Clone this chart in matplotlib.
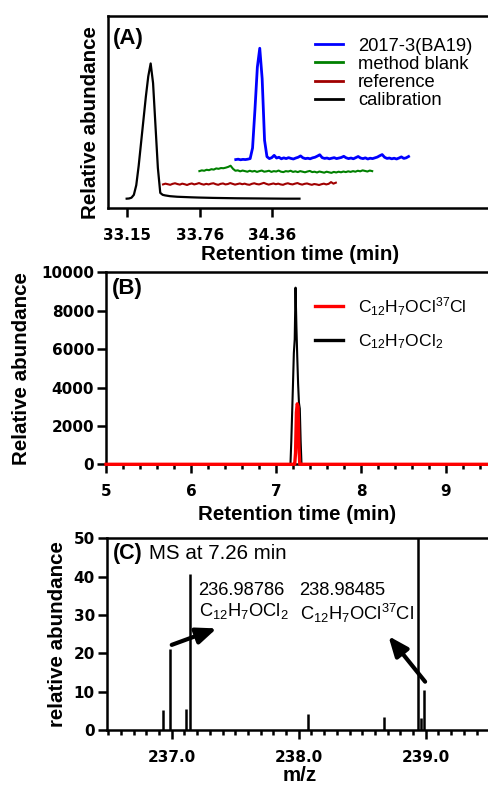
import numpy as np
import matplotlib
matplotlib.use("Agg")
import matplotlib.pyplot as plt
from matplotlib.ticker import MultipleLocator, FormatStrFormatter

plt.rcParams['font.family'] = ['Liberation Sans', 'DejaVu Sans']
plt.rcParams['mathtext.default'] = 'regular'

# ---------------- (A) stacked chromatograms ----------------
scan_time = np.round(np.linspace(33.15, 34.59, 73), 3)

calibration = [
    0.0, 0.1, 0.5, 2.0, 7.0, 17.0, 29.0, 41.0, 53.0, 63.5,
    70.2, 60.0, 38.0, 16.0, 3.0, 2.0, 1.7, 1.5, 1.3, 1.2,
    1.1, 1.0, 0.95, 0.9, 0.85, 0.8, 0.75, 0.7, 0.66, 0.62,
    0.58, 0.55, 0.52, 0.49, 0.46, 0.43, 0.4, 0.38, 0.36, 0.34,
    0.32, 0.3, 0.28, 0.26, 0.24, 0.22, 0.2, 0.19, 0.18, 0.17,
    0.16, 0.15, 0.14, 0.13, 0.12, 0.11, 0.1, 0.09, 0.08, 0.07,
    0.06, 0.05, 0.04, 0.03, 0.02, 0.01, 0.0, 0.0, 0.0, 0.0,
    0.0, 0.0, 0.0]

reference = [
    0.0, 0.4, 0.1, -0.2, 0.3, 0.6, 0.2, -0.1, 0.4, 0.1,
    -0.3, 0.2, 0.5, 0.0, 0.3, 0.7, 0.2, -0.1, 0.3, 0.0,
    0.4, 0.6, 0.1, -0.2, 0.3, 0.5, 0.0, 0.2, 0.7, 0.3,
    -0.1, 0.2, 0.5, 0.1, 0.4, 0.0, -0.2, 0.3, 0.6, 0.2,
    0.0, 0.4, 0.8, 0.3, -0.1, 0.2, 0.5, 0.1, 0.4, 0.0,
    -0.2, 0.3, 0.6, 0.2, 0.0, 0.4, 0.7, 0.2, -0.1, 0.3,
    0.5, 0.1, -0.2, 0.2, 0.0, -0.3, 0.1, 0.4, 0.0, 0.3,
    1.2, 0.4, 0.9]

method_blank = [
    0.0, 0.4, 0.2, 0.7, 0.5, 1.0, 0.8, 1.4, 1.2, 1.6,
    1.5, 1.8, 2.2, 2.8, 1.2, 0.2, 0.4, -0.1, 0.3, 0.0,
    -0.3, 0.2, -0.2, 0.1, -0.4, 0.0, 0.3, -0.3, -0.1, 0.2,
    -0.4, 0.0, -0.2, 0.3, -0.3, -0.5, 0.0, -0.2, 0.2, -0.4,
    -0.1, -0.5, 0.0, -0.3, -0.6, -0.2, 0.1, -0.5, -0.3, -0.7,
    -0.2, -0.5, -0.8, -0.3, -0.6, -0.9, -0.4, -0.7, -0.3, -0.6,
    -0.2, -0.5, -0.1, -0.4, 0.0, -0.3, 0.2, -0.1, 0.4, 0.1,
    -0.2, 0.3, 0.0]

sample_ba19 = [
    0.0, 0.2, -0.1, 0.1, 0.0, 0.2, 0.5, 6.0, 26.0, 48.0,
    57.8, 42.0, 10.0, 1.5, 0.5, 1.0, 2.2, 0.8, 1.2, 0.4,
    0.9, 0.5, 1.0, 0.6, 0.3, 0.8, 1.2, 1.9, 0.9, 0.5,
    0.7, 0.4, 0.9, 1.2, 1.8, 2.5, 1.0, 0.6, 0.8, 0.4,
    0.7, 1.0, 0.5, 0.8, 1.1, 1.7, 0.9, 0.5, 0.8, 0.4,
    1.0, 1.6, 0.8, 0.5, 0.9, 0.3, 0.7, 0.5, 0.9, 1.3,
    2.0, 2.6, 1.2, 0.6, 0.8, 0.4, 0.7, 0.3, 0.8, 1.4,
    0.6, 0.9, 1.6]

a_labels = ['2017-3(BA19)', 'method blank', 'reference', 'calibration']
a_series = [sample_ba19, method_blank, reference, calibration]
a_colors = ['#0000ff', '#008000', '#a00000', '#000000']
a_widths = [2.0, 1.5, 1.5, 1.6]
a_ticks = [33.15, 33.76, 34.36]

# stacking: each trace shifted right and up relative to the one below it
stack_dx = [0.909, 0.606, 0.303, 0.0]
stack_dy = [25.3, 19.3, 12.4, 5.0]

# ---------------- (B) extracted ion chromatograms ----------------
b_time = [5.00, 7.16, 7.17, 7.18, 7.19, 7.20, 7.21, 7.22, 7.23, 7.24,
          7.25, 7.26, 7.27, 7.28, 7.29, 7.30, 7.31, 9.50]
b_cl2 = [0, 0, 0, 1200, 2700, 4200, 5800, 6500, 9200, 7200,
         5600, 4200, 3200, 2900, 1200, 0, 0, 0]
b_cl37 = [0, 0, 0, 0, 0, 0, 0, 0, 600, 2700,
          3150, 3000, 900, 0, 0, 0, 0, 0]
b_labels = [r'C$_{12}$H$_7$OCl$^{37}$Cl', r'C$_{12}$H$_7$OCl$_2$']

# ---------------- (C) mass spectrum at 7.26 min ----------------
c_mz = [236.929, 236.98786, 237.113, 237.146, 238.071, 238.672,
        238.937, 238.963, 238.98485]
c_int = [5.3, 21.2, 5.4, 40.7, 4.3, 3.3, 100.0, 3.2, 10.4]

# ---------------- figure ----------------
W, H = 489, 785
fig = plt.figure(figsize=(W / 100, H / 100), dpi=100)


def axes_px(left, top, right, bottom):
    return fig.add_axes([left / W, 1 - bottom / H, (right - left) / W, (bottom - top) / H])


SPINE = 1.8
TICK_FS = 11
LABEL_FS = 14.8
TICK_FONT = ['DejaVu Sans']


def style(ax, right=True):
    for s in ax.spines.values():
        s.set_linewidth(SPINE)
    if not right:
        ax.spines['right'].set_visible(False)
    ax.tick_params(which='major', direction='out', width=SPINE, length=6.5,
                   labelsize=TICK_FS)
    ax.tick_params(which='minor', direction='out', width=SPINE, length=3.5)
    ax.tick_params(axis='x', which='major', pad=8)
    ax.tick_params(axis='y', which='major', pad=2)
    ax.tick_params(top=False, right=False, which='both')


def bold_ticks(ax):
    for t in ax.get_xticklabels() + ax.get_yticklabels():
        t.set_fontweight('bold')
        t.set_family(TICK_FONT)


# ---- panel A ----
axA = axes_px(107.7, 15.7, 488.5, 208.3)
style(axA)
for vals, lab, col, lw, dx, dy in zip(a_series, a_labels, a_colors, a_widths,
                                      stack_dx, stack_dy):
    axA.plot(scan_time + dx, np.asarray(vals) + dy, color=col, lw=lw, label=lab)
axA.set_xlim(32.992, 36.165)
axA.set_ylim(0, 100)
axA.set_yticks([])
axA.set_xticks(a_ticks)
axA.set_xticklabels([f'{t:.2f}' for t in a_ticks])
bold_ticks(axA)
axA.set_xlabel('Retention time (min)', fontsize=LABEL_FS, fontweight='bold')
axA.xaxis.set_label_coords(0.506, -0.191)
axA.set_ylabel('Relative abundance', fontsize=LABEL_FS, fontweight='bold')
axA.yaxis.set_label_coords(-0.021, 0.443)
axA.text(0.014, 0.884, '(A)', transform=axA.transAxes, fontsize=16,
         fontweight='bold', ha='left', va='center')
legA = axA.legend(loc='upper left', bbox_to_anchor=(0.545, 0.886), frameon=False,
                  fontsize=13.2, handlelength=1.53, handletextpad=0.8,
                  labelspacing=0.065, borderpad=0, borderaxespad=0)
for ln in legA.get_lines():
    ln.set_linewidth(2.0)

# ---- panel B ----
axB = axes_px(106, 272.3, 488.5, 464.3)
style(axB, right=False)
lb_black, = axB.plot(b_time, b_cl2, color='black', lw=1.5, label=b_labels[1], zorder=3)
lb_red, = axB.plot(b_time, b_cl37, color='#ff0000', lw=2.4, label=b_labels[0],
                   zorder=4, clip_on=False)
axB.set_xlim(5, 9.5)
axB.set_ylim(0, 10000)
axB.xaxis.set_major_locator(MultipleLocator(1))
axB.xaxis.set_minor_locator(MultipleLocator(0.2))
axB.yaxis.set_major_locator(MultipleLocator(2000))
bold_ticks(axB)
axB.set_xlabel('Retention time (min)', fontsize=LABEL_FS, fontweight='bold')
axB.xaxis.set_label_coords(0.5, -0.212)
axB.set_ylabel('Relative abundance', fontsize=LABEL_FS, fontweight='bold')
axB.yaxis.set_label_coords(-0.196, 0.5)
axB.text(0.015, 0.918, '(B)', transform=axB.transAxes, fontsize=16,
         fontweight='bold', ha='left', va='center')
legB = axB.legend(handles=[lb_red, lb_black], loc='upper left',
                  bbox_to_anchor=(0.546, 0.882), frameon=False, fontsize=12.6,
                  handlelength=1.6, handletextpad=0.84, labelspacing=0.85,
                  borderpad=0, borderaxespad=0)
for ln in legB.get_lines():
    ln.set_linewidth(2.4)

# ---- panel C ----
axC = axes_px(106.7, 538.3, 495.6, 730)
style(axC, right=False)
axC.vlines(c_mz, 0, c_int, colors='black', lw=1.8)
axC.set_xlim(236.488, 239.55)
axC.set_ylim(0, 50)
axC.xaxis.set_major_locator(MultipleLocator(1))
axC.xaxis.set_minor_locator(MultipleLocator(0.1))
axC.xaxis.set_major_formatter(FormatStrFormatter('%.1f'))
axC.yaxis.set_major_locator(MultipleLocator(10))
bold_ticks(axC)
axC.set_xlabel('m/z', fontsize=LABEL_FS, fontweight='bold')
axC.xaxis.set_label_coords(0.497, -0.19)
axC.set_ylabel('relative abundance', fontsize=LABEL_FS, fontweight='bold')
axC.yaxis.set_label_coords(-0.103, 0.5)
axC.text(0.017, 0.923, '(C)', transform=axC.transAxes, fontsize=15.5,
         fontweight='bold', ha='left', va='center')
axC.text(0.108, 0.923, 'MS at 7.26 min', transform=axC.transAxes, fontsize=14.8,
         ha='left', va='center')

ANN_FS = 13.2
axC.text(237.21, 35.2, f'{c_mz[1]:.5f}', fontsize=ANN_FS, ha='left', va='baseline')
axC.text(237.217, 29.7, b_labels[1], fontsize=ANN_FS, ha='left', va='baseline')
axC.text(238.002, 35.2, f'{c_mz[8]:.5f}', fontsize=ANN_FS, ha='left', va='baseline')
axC.text(238.01, 28.8, b_labels[0], fontsize=ANN_FS, ha='left', va='baseline')

arrow_kw = dict(arrowstyle='-|>,head_length=0.8,head_width=0.33', lw=3,
                color='black', shrinkA=0, shrinkB=0, mutation_scale=15)
axC.annotate('', xy=(237.354, 26.5), xytext=(237.0, 22.2), arrowprops=arrow_kw)
axC.annotate('', xy=(238.706, 24.5), xytext=(238.995, 12.6), arrowprops=arrow_kw)

fig.savefig('out.png', dpi=100)
